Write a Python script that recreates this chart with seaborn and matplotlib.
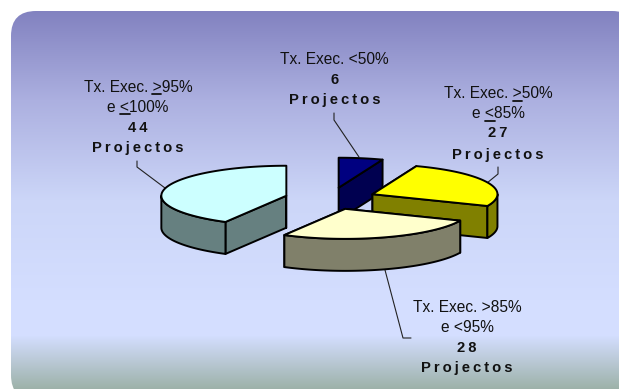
import numpy as np
import matplotlib
matplotlib.use('Agg')
import matplotlib.pyplot as plt
from matplotlib.patches import FancyBboxPatch, Polygon
import seaborn as sns

# Data
categories = ['Tx. Exec. <50%', 'Tx. Exec. >50% e <85%', 'Tx. Exec. >85% e <95%', 'Tx. Exec. >95% e <100%']
projectos = [6, 27, 28, 44]
top_colors = ['#000080', '#FFFF00', '#FFFFCC', '#CCFFFF']
side_colors = ['#000050', '#808000', '#80806A', '#668080']

sns.set_theme(style='white')
plt.rcParams['font.family'] = ['Liberation Sans', 'DejaVu Sans']

fig = plt.figure(figsize=(6.19, 3.89), dpi=100, facecolor='white')
ax = fig.add_axes([0, 0, 1, 1])
ax.set_xlim(0, 619)
ax.set_ylim(389, 0)
ax.axis('off')

# background panel with vertical gradient
ys = np.arange(0, 401)
stop_y = [11, 100, 200, 300, 335, 400]
r = np.interp(ys, stop_y, [130, 172, 204, 212, 212, 145])
g = np.interp(ys, stop_y, [130, 176, 214, 222, 222, 168])
b = np.interp(ys, stop_y, [192, 224, 248, 255, 255, 150])
grad = np.c_[r, g, b][:, None, :] / 255
panel = FancyBboxPatch((11, 11), 626, 389, boxstyle='round,pad=0,rounding_size=25',
                       linewidth=0, facecolor='none')
ax.add_patch(panel)
im = ax.imshow(grad, extent=(0, 640, 401, 0), aspect='auto', zorder=0)
im.set_clip_path(panel)
ax.set_xlim(0, 619)
ax.set_ylim(389, 0)

# exploded 3d pie, angles clockwise from 12 o'clock
cx, cy = 330.5, 198.5
rx, ry = 125, 30
depth = 32
explode = 0.365
edge = dict(edgecolor='black', linewidth=1.4, joinstyle='round')

def pt(ang, ox, oy):
    return ox + rx * np.sin(ang), oy - ry * np.cos(ang)

bounds = np.radians(np.concatenate([[0], np.cumsum(projectos)]) / sum(projectos) * 360)
slices = []
for i in range(len(projectos)):
    a0, a1 = bounds[i], bounds[i + 1]
    mid = (a0 + a1) / 2
    slices.append((i, a0, a1, cx + explode * rx * np.sin(mid), cy - explode * ry * np.cos(mid)))

# painter order: back slices first
for z, (i, a0, a1, ox, oy) in enumerate([slices[0], slices[3], slices[1], slices[2]]):
    # straight walls
    for a in (a0, a1):
        x1, y1 = pt(a, ox, oy)
        ax.add_patch(Polygon([(ox, oy), (x1, y1), (x1, y1 + depth), (ox, oy + depth)],
                             facecolor=side_colors[i], zorder=2 + z, **edge))
    # outer wall, only the front facing part
    lo, hi = max(a0, np.pi / 2), min(a1, 3 * np.pi / 2)
    if hi > lo:
        t = np.linspace(lo, hi, 80)
        x, y = pt(t, ox, oy)
        wall = np.r_[np.c_[x, y], np.c_[x, y + depth][::-1]]
        ax.add_patch(Polygon(wall, facecolor=side_colors[i], zorder=2 + z, **edge))
    # top face
    t = np.linspace(a0, a1, 120)
    x, y = pt(t, ox, oy)
    ax.add_patch(Polygon(np.r_[[(ox, oy)], np.c_[x, y]], facecolor=top_colors[i],
                         zorder=2 + z, **edge))

# leader lines
leaders = [[(334, 113), (334, 120), (359, 157)],
           [(498, 167), (498, 174), (487, 183)],
           [(385, 270), (403, 338), (411, 338)],
           [(137, 161), (137, 167), (165, 188)]]
for pts in leaders:
    ax.plot(*zip(*pts), color='#222222', lw=0.8, zorder=1.5)

# labels
word = '\u2009'.join('Projectos')
labels = [
    (334.5, [59], ['Tx. Exec. <50%'], [80, 100], 0),
    (498, [93, 113], ['Tx. Exec. >50%', 'e <85%'], [133, 155], 1),
    (467, [307, 327], ['Tx. Exec. >85%', 'e <95%'], [348, 368], 2),
    (138, [87, 107], ['Tx. Exec. >95%', 'e <100%'], [128, 148], 3),
]
for xc, ly, lines, by, i in labels:
    for yy, s in zip(ly, lines):
        ax.text(xc, yy, s, ha='center', va='center', fontsize=11.2, color='#111111', zorder=8)
    ax.text(xc, by[0], '\u2009'.join(str(projectos[i])), ha='center', va='center',
            fontsize=10.6, fontweight='bold', color='#111111', zorder=8)
    ax.text(xc, by[1], word, ha='center', va='center', fontsize=10.6, fontweight='bold',
            color='#111111', zorder=8)

# underlined > and < signs
for x0, x1, yy in [(152, 161, 93.8), (120, 130, 114.3), (513, 522, 100.5), (485, 495, 121)]:
    ax.plot([x0, x1], [yy, yy], color='#111111', lw=1.3, zorder=8)

fig.savefig('out.png', dpi=100)
